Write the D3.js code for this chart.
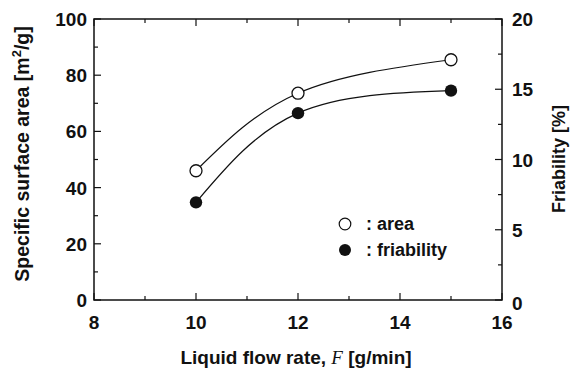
<!DOCTYPE html>
<html>
<head>
<meta charset="utf-8">
<script src="https://cdn.jsdelivr.net/npm/d3@7"></script>
<style>
body { margin: 0; background: #fff; }
text { font-family: "Liberation Sans", Arial, sans-serif; font-weight: bold; fill: #111; }
</style>
</head>
<body>
<svg id="chart" width="570" height="374"></svg>
<script>
// data
var flowRate = [10, 12, 15];
var area = [46.0, 73.6, 85.5];
var friability = [6.95, 13.3, 14.9];
var xTicks = [8, 10, 12, 14, 16];
var yLeftTicks = [0, 20, 40, 60, 80, 100];
var yRightTicks = [0, 5, 10, 15, 20];

var svg = d3.select("#chart");
var L = 94, R = 502, T = 19, B = 300;

var x = d3.scaleLinear().domain([8, 16]).range([L, R]);
var yL = d3.scaleLinear().domain([0, 100]).range([B, T]);
var yR = d3.scaleLinear().domain([0, 20]).range([B, T]);

// frame
svg.append("rect")
	.attr("x", L).attr("y", T)
	.attr("width", R - L).attr("height", B - T)
	.attr("fill", "none").attr("stroke", "#111").attr("stroke-width", 1.5);

// ticks (inward), major + minor
var g = svg.append("g").attr("stroke", "#111").attr("stroke-width", 1.2);
d3.range(8, 16.01, 1).forEach(function(v) {
	var len = (v % 2 == 0) ? 7 : 4;
	g.append("line").attr("x1", x(v)).attr("x2", x(v)).attr("y1", B).attr("y2", B - len);
	g.append("line").attr("x1", x(v)).attr("x2", x(v)).attr("y1", T).attr("y2", T + len);
});
d3.range(0, 100.01, 10).forEach(function(v) {
	var len = (v % 20 == 0) ? 7 : 4;
	g.append("line").attr("x1", L).attr("x2", L + len).attr("y1", yL(v)).attr("y2", yL(v));
});
d3.range(0, 20.01, 2.5).forEach(function(v) {
	var len = (v % 5 == 0) ? 7 : 4;
	g.append("line").attr("x1", R).attr("x2", R - len).attr("y1", yR(v)).attr("y2", yR(v));
});

// tick labels
svg.selectAll(".xl").data(xTicks).enter().append("text")
	.attr("x", function(d) { return x(d); }).attr("y", 329)
	.attr("text-anchor", "middle").attr("font-size", 19)
	.text(function(d) { return d; });
svg.selectAll(".yl").data(yLeftTicks).enter().append("text")
	.attr("x", 87).attr("y", function(d) { return yL(d) + 7; })
	.attr("text-anchor", "end").attr("font-size", 19)
	.text(function(d) { return d; });
svg.selectAll(".yr").data(yRightTicks).enter().append("text")
	.attr("x", 512).attr("y", function(d) { return yR(d) + (d == 0 ? 10 : 7); })
	.attr("text-anchor", "start").attr("font-size", 19)
	.text(function(d) { return d; });

// axis titles
var xt = svg.append("text").attr("x", 296).attr("y", 364)
	.attr("text-anchor", "middle").attr("font-size", 19);
xt.append("tspan").text("Liquid flow rate, ");
xt.append("tspan").attr("font-family", "Liberation Serif, serif").attr("font-style", "italic")
	.attr("font-weight", "normal").text("F");
xt.append("tspan").text(" [g/min]");

var yt = svg.append("text")
	.attr("transform", "translate(29,154) rotate(-90)")
	.attr("text-anchor", "middle").attr("font-size", 19.5);
yt.append("tspan").text("Specific surface area [m");
yt.append("tspan").attr("font-size", 13).attr("dy", -8).text("2");
yt.append("tspan").attr("dy", 8).text("/g]");

svg.append("text")
	.attr("transform", "translate(565,159) rotate(-90)")
	.attr("text-anchor", "middle").attr("font-size", 18)
	.text("Friability [%]");

// curves
var areaPts = flowRate.map(function(f, i) { return [x(f), yL(area[i])]; });
var friPts = flowRate.map(function(f, i) { return [x(f), yR(friability[i])]; });
var line = d3.line().curve(d3.curveNatural);
svg.append("path").attr("d", line(areaPts))
	.attr("fill", "none").attr("stroke", "#111").attr("stroke-width", 1.2);
svg.append("path").attr("d", line(friPts))
	.attr("fill", "none").attr("stroke", "#111").attr("stroke-width", 1.2);

// markers
svg.selectAll(".ma").data(areaPts).enter().append("circle")
	.attr("cx", function(d) { return d[0]; }).attr("cy", function(d) { return d[1]; })
	.attr("r", 6).attr("fill", "#fff").attr("stroke", "#111").attr("stroke-width", 1.3);
svg.selectAll(".mf").data(friPts).enter().append("circle")
	.attr("cx", function(d) { return d[0]; }).attr("cy", function(d) { return d[1]; })
	.attr("r", 6.2).attr("fill", "#111");

// legend
svg.append("circle").attr("cx", 345).attr("cy", 224).attr("r", 5.8)
	.attr("fill", "#fff").attr("stroke", "#111").attr("stroke-width", 1.2);
svg.append("circle").attr("cx", 345).attr("cy", 250).attr("r", 6).attr("fill", "#111");
svg.append("text").attr("x", 366).attr("y", 230).attr("font-size", 18).text(": area");
svg.append("text").attr("x", 366).attr("y", 256).attr("font-size", 18).text(": friability");
</script>
</body>
</html>
